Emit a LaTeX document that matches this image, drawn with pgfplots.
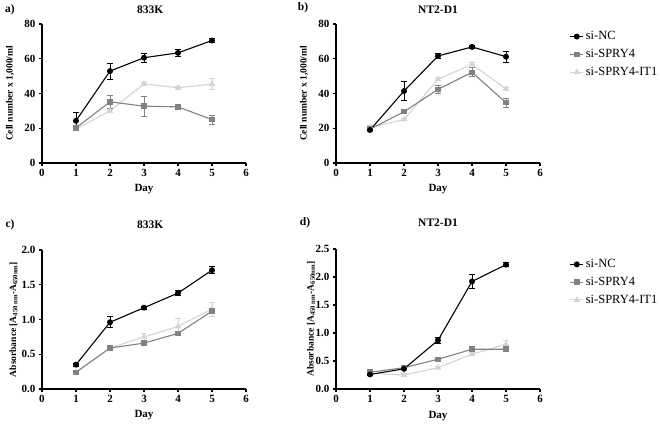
\documentclass[border=0pt]{standalone}
\usepackage{fontspec}
\setmainfont{Liberation Serif}
\usepackage{pgfplots}
\pgfplotsset{compat=1.18}
\definecolor{c4}{RGB}{130,130,130}
\definecolor{c5}{RGB}{212,212,212}
\pgfplotsset{
  every axis title shift=0pt,
  base/.style={scale only axis, width=204pt, height=139pt,
    axis lines=left, axis line style={-, line width=1.3pt, black},
    xmin=0, xmax=6, ymin=0, xtick={0,...,6},
    tick align=outside, major tick length=3pt,
    tick style={line width=1.2pt, black},
    every tick label/.append style={font=\fontsize{11}{12}\selectfont\bfseries},
    /pgf/number format/assume math mode=true,
    xlabel={Day},
    xlabel style={font=\fontsize{11}{12}\selectfont\bfseries, at={(axis description cs:0.5,-0.19)}, anchor=center},
    ylabel style={font=\fontsize{9.5}{11}\selectfont\bfseries, at={(axis description cs:-0.157,0.5)}, anchor=center},
    title style={font=\fontsize{11.5}{13}\selectfont\bfseries},
    clip=false,
    legend image code/.code={\draw[mark repeat=2,mark phase=2,##1] plot coordinates {(0pt,0pt) (6.5pt,0pt) (13pt,0pt)};},
  },
  nc/.style={black, line width=1.1pt, mark=*, mark size=2.4pt, mark options={solid, fill=black},
    error bars/.cd, y dir=both, y explicit, error bar style={line width=1pt, black}, error mark options={rotate=90, mark size=2.6pt, line width=1pt, black}},
  s4/.style={c4, line width=1.1pt, mark=square*, mark size=2.2pt, mark options={solid, fill=c4},
    error bars/.cd, y dir=both, y explicit, error bar style={line width=1pt, c4}, error mark options={rotate=90, mark size=2.6pt, line width=1pt, c4}},
  it/.style={c5, line width=1.1pt, mark=triangle*, mark size=2.6pt, mark options={solid, fill=c5},
    error bars/.cd, y dir=both, y explicit, error bar style={line width=1pt, c5}, error mark options={rotate=90, mark size=2.6pt, line width=1pt, c5}},
  leg/.style={reverse legend, legend style={at={(axis description cs:1.13,0.975)}, anchor=north west, draw=none, fill=none,
    font=\fontsize{12.5}{15}\selectfont, row sep=4pt, legend cell align=left}},
}
\begin{document}
\begin{tikzpicture}[x=1pt,y=1pt]
\path[use as bounding box] (0,0) rectangle (660,425);
\node[font=\fontsize{11.5}{13}\selectfont\bfseries] at (10,415) {a)};
\node[font=\fontsize{11.5}{13}\selectfont\bfseries] at (303,417) {b)};
\node[font=\fontsize{11.5}{13}\selectfont\bfseries] at (10,200) {c)};
\node[font=\fontsize{11.5}{13}\selectfont\bfseries] at (305,202) {d)};

% a)
\begin{axis}[base, at={(42pt,262pt)}, anchor=south west, ymax=80, ytick={0,20,...,80},
  ylabel={Cell number x 1,000/ml}, title={833K}, title style={at={(axis description cs:0.53,1.1)}, anchor=center}]
\addplot+[it] table[x=x,y=y,y error=e]{
x y e
1 19.5 0.8
2 30.0 0.8
3 45.5 0.8
4 43.3 0.8
5 45.4 3.0
};
\addplot+[s4] table[x=x,y=y,y error=e]{
x y e
1 20.2 1.0
2 35.2 3.6
3 32.7 5.7
4 32.3 1.0
5 25.0 2.6
};
\addplot+[nc] table[x=x,y=y,y error=e]{
x y e
1 24.3 4.5
2 52.9 4.6
3 60.6 2.5
4 63.4 2.0
5 70.5 1.0
};
\end{axis}

% b)
\begin{axis}[base, leg, at={(336pt,262pt)}, anchor=south west, ymax=80, ytick={0,20,...,80},
  ylabel={Cell number x 1,000/ml}, title={NT2-D1}, title style={at={(axis description cs:0.5,1.1)}, anchor=center}]
\addplot+[it] table[x=x,y=y,y error=e]{
x y e
1 20.5 0.8
2 25.0 0.8
3 48.2 0.8
4 56.8 0.8
5 42.6 0.8
};
\addlegendentry{si-SPRY4-IT1}
\addplot+[s4] table[x=x,y=y,y error=e]{
x y e
1 19.5 0.8
2 29.5 1.0
3 42.4 2.2
4 52.2 2.5
5 34.7 2.6
};
\addlegendentry{si-SPRY4}
\addplot+[nc] table[x=x,y=y,y error=e]{
x y e
1 19.0 1.0
2 41.4 5.7
3 61.6 1.5
4 66.8 0.8
5 61.2 3.2
};
\addlegendentry{si-NC}
\end{axis}

% c)
\begin{axis}[base, at={(42pt,36pt)}, anchor=south west, ymax=2.0, ytick={0,0.5,...,2.0},
  yticklabel style={/pgf/number format/.cd, fixed, fixed zerofill, precision=1},
  ylabel={Absorbance [A\textsubscript{450 nm}-A\textsubscript{650nm}]},
  ylabel style={at={(axis description cs:-0.14,0.5)}},
  title={833K}, title style={at={(axis description cs:0.53,1.18)}, anchor=center}]
\addplot+[it] table[x=x,y=y,y error=e]{
x y e
1 0.24 0.02
2 0.59 0.02
3 0.75 0.05
4 0.90 0.12
5 1.15 0.10
};
\addplot+[s4] table[x=x,y=y,y error=e]{
x y e
1 0.24 0.02
2 0.59 0.02
3 0.66 0.04
4 0.80 0.03
5 1.12 0.04
};
\addplot+[nc] table[x=x,y=y,y error=e]{
x y e
1 0.35 0.02
2 0.96 0.08
3 1.17 0.02
4 1.38 0.04
5 1.71 0.05
};
\end{axis}

% d)
\begin{axis}[base, leg, at={(336pt,36pt)}, anchor=south west, height=140pt, ymax=2.5, ytick={0,0.5,...,2.5},
  yticklabel style={/pgf/number format/.cd, fixed, fixed zerofill, precision=1},
  ylabel={Absorbance [A\textsubscript{450 nm}-A\textsubscript{650nm}]},
  ylabel style={at={(axis description cs:-0.123,0.5)}},
  legend style={at={(axis description cs:1.13,0.955)}},
  title={NT2-D1}, title style={at={(axis description cs:0.5,1.19)}, anchor=center}]
\addplot+[it] table[x=x,y=y,y error=e]{
x y e
1 0.28 0.02
2 0.25 0.02
3 0.38 0.02
4 0.62 0.03
5 0.80 0.07
};
\addlegendentry{si-SPRY4-IT1}
\addplot+[s4] table[x=x,y=y,y error=e]{
x y e
1 0.30 0.02
2 0.38 0.02
3 0.53 0.02
4 0.71 0.04
5 0.71 0.04
};
\addlegendentry{si-SPRY4}
\addplot+[nc] table[x=x,y=y,y error=e]{
x y e
1 0.26 0.02
2 0.36 0.02
3 0.87 0.05
4 1.92 0.12
5 2.22 0.04
};
\addlegendentry{si-NC}
\end{axis}
\end{tikzpicture}
\end{document}
